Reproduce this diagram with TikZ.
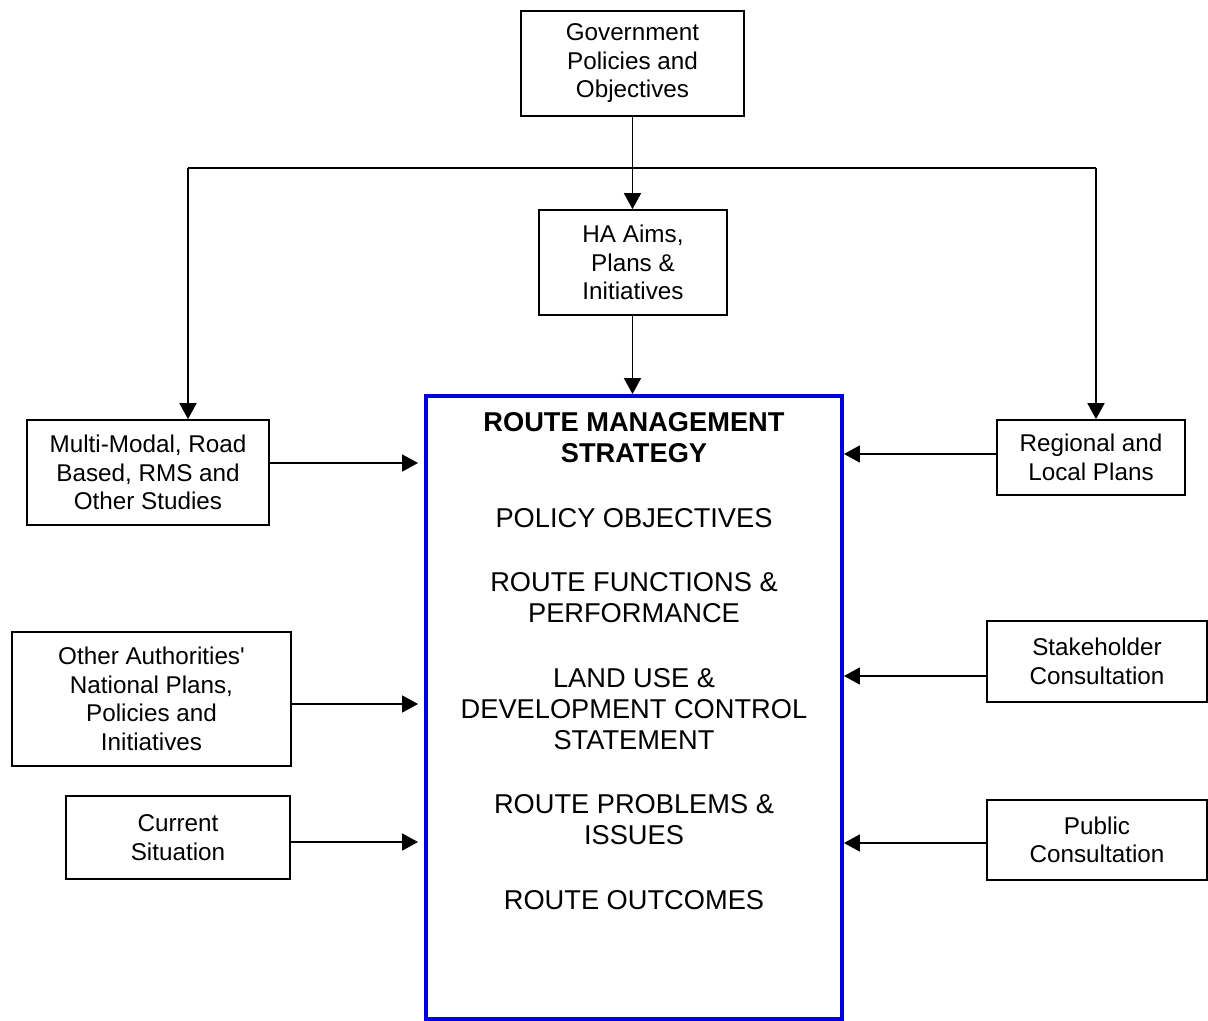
\documentclass[tikz,border=0pt]{standalone}
\usepackage{fontspec}
\setmainfont{Liberation Sans}
\usetikzlibrary{arrows.meta}
\definecolor{mainblue}{RGB}{0,0,225}
\tikzset{
  box/.style={draw=black, line width=0.035cm, rectangle, inner sep=0pt, align=center,
    font=\fontsize{13.8pt}{16.2pt}\selectfont},
  arr/.style={draw=black, line width=0.035cm, -{Triangle[length=0.32cm,width=0.34cm]}},
  ln/.style={draw=black, line width=0.035cm},
  mtext/.style={inner sep=0pt, align=center, font=\fontsize{15.5pt}{17.6pt}\selectfont},
}
\begin{document}
\begin{tikzpicture}[x=0.02cm,y=-0.02cm]
\useasboundingbox (0,0) rectangle (1208,1021);
% boxes
\node[box, minimum width=4.46cm, minimum height=2.10cm] (gov) at (632.5,63.5) {Government\\Policies and\\Objectives};
\node[box, minimum width=3.76cm, minimum height=2.10cm] (ha) at (633,262.5) {HA Aims,\\Plans \&\\Initiatives};
\node[draw=mainblue, line width=0.08cm, rectangle, inner sep=0pt, minimum width=8.32cm, minimum height=12.46cm] (main) at (634,707.5) {};
\node[box, minimum width=4.84cm, minimum height=2.10cm] (mm) at (148,472.5) {Multi-Modal, Road\\Based, RMS and\\Other Studies};
\node[box, minimum width=3.76cm, minimum height=1.50cm] (reg) at (1091,457.5) {Regional and\\Local Plans};
\node[box, minimum width=5.58cm, minimum height=2.68cm] (oa) at (151.5,699) {Other Authorities\textquotesingle\\National Plans,\\Policies and\\Initiatives};
\node[box, minimum width=4.48cm, minimum height=1.66cm] (cs) at (178,837.5) {Current\\Situation};
\node[box, minimum width=4.40cm, minimum height=1.62cm] (sc) at (1097,661.5) {Stakeholder\\Consultation};
\node[box, minimum width=4.40cm, minimum height=1.60cm] (pc) at (1097,840) {Public\\Consultation};
% main box text
\node[mtext, font=\fontsize{15.5pt}{17.6pt}\selectfont\bfseries] (t0) at (634,438) {ROUTE MANAGEMENT\\STRATEGY};
\node[mtext] (t1) at (634,518) {POLICY OBJECTIVES};
\node[mtext] (t2) at (634,598) {ROUTE FUNCTIONS \&\\PERFORMANCE};
\node[mtext] (t3) at (634,709) {LAND USE \&\\DEVELOPMENT CONTROL\\STATEMENT};
\node[mtext] (t4) at (634,820) {ROUTE PROBLEMS \&\\ISSUES};
\node[mtext] (t5) at (634,900) {ROUTE OUTCOMES};
% top connectors
\coordinate (v) at (632.5,0);
\draw[arr] (v |- gov.south) -- (v |- ha.north);
\draw[arr] (v |- ha.south) -- (v |- main.north);
\coordinate (jl) at (188,168);
\coordinate (jr) at (1096,168);
\draw[ln] (jl) -- (jr);
\draw[arr] (jl) -- (jl |- mm.north);
\draw[arr] (jr) -- (jr |- reg.north);
% left connectors
\coordinate (a1) at ([yshift=0.19cm]mm.east);
\draw[arr, shorten >=0.12cm] (a1) -- (a1 -| main.west);
\coordinate (a2) at ([yshift=-0.10cm]oa.east);
\draw[arr, shorten >=0.12cm] (a2) -- (a2 -| main.west);
\coordinate (a3) at ([yshift=-0.09cm]cs.east);
\draw[arr, shorten >=0.12cm] (a3) -- (a3 -| main.west);
% right connectors
\coordinate (b1) at ([yshift=0.07cm]reg.west);
\draw[arr] (b1) -- (b1 -| main.east);
\coordinate (b2) at ([yshift=-0.29cm]sc.west);
\draw[arr] (b2) -- (b2 -| main.east);
\coordinate (b3) at ([yshift=-0.06cm]pc.west);
\draw[arr] (b3) -- (b3 -| main.east);
\end{tikzpicture}
\end{document}
